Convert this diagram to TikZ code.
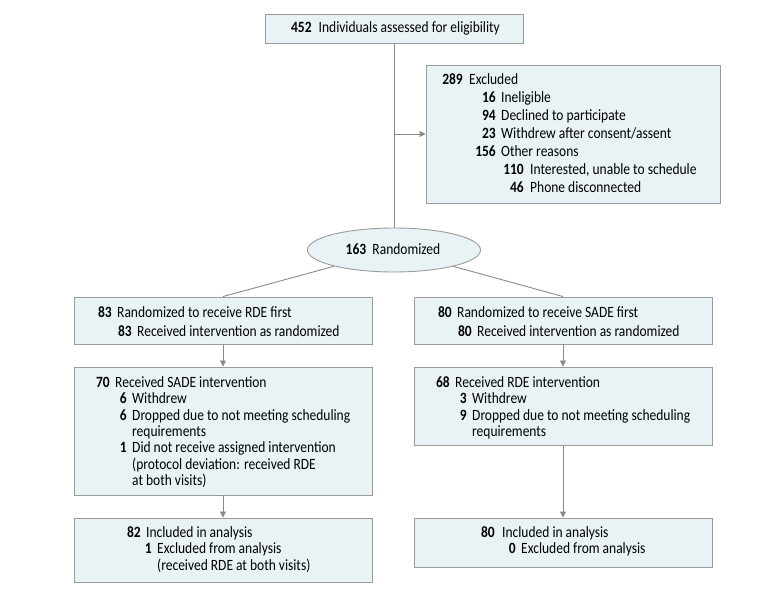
\documentclass[tikz,border=0pt]{standalone}
\usepackage{fontspec}
\setmainfont{Carlito}[FakeStretch=0.86]
\usetikzlibrary{arrows.meta,shapes.geometric}
\definecolor{boxfill}{HTML}{E9F2F5}
\definecolor{boxline}{HTML}{9B9B9B}
\definecolor{connc}{HTML}{8A8A8A}
\newlength\refw
% name, x of number right edge, x of text start, y centre, number, text
\newcommand\itemrow[6]{%
  \node[numtxt, anchor=base east] (#1n) at (#2,#4+4.5) {#5};
  \node[bodytxt, anchor=base west] (#1t) at (#3,#4+4.5) {#6};}
% name, x of text start, y centre, text
\newcommand\controw[4]{%
  \node[bodytxt, anchor=base west] (#1) at (#2,#3+4.5) {#4};}
\begin{document}
\settowidth\refw{\fontsize{10pt}{12pt}\selectfont Dropped due to not meeting scheduling}%
\pgfmathsetmacro\fsz{10*218/\refw}%
\begin{tikzpicture}[x=1pt,y=-1pt]
\tikzset{
  numtxt/.style={font=\fontsize{\fsz pt}{\fsz pt}\selectfont\bfseries, inner sep=0pt, text=black},
  bodytxt/.style={font=\fontsize{\fsz pt}{\fsz pt}\selectfont, inner sep=0pt, text=black},
  box/.style={draw=boxline, fill=boxfill, line width=0.9pt, inner sep=0pt},
  conn/.style={draw=connc, line width=0.9pt},
  arr/.style={conn, -{Triangle[length=6pt,width=6pt]}},
}
\useasboundingbox (0,0) rectangle (780,593);

% boxes
\node[box, minimum width=258pt, minimum height=29pt] (top) at (394,28.5) {};
\node[box, minimum width=294pt, minimum height=138pt] (excl) at (573,134) {};
\node[box, ellipse, minimum width=173pt, minimum height=44pt] (rand) at (394,250) {};
\node[box, minimum width=298pt, minimum height=47pt] (L1) at (223,320.5) {};
\node[box, minimum width=298pt, minimum height=47pt] (R1) at (563,320.5) {};
\node[box, minimum width=298pt, minimum height=128pt] (L2) at (223,431) {};
\node[box, minimum width=298pt, minimum height=78pt] (R2) at (563,406) {};
\node[box, minimum width=298pt, minimum height=64pt] (L3) at (223,550) {};
\node[box, minimum width=298pt, minimum height=49pt] (R3) at (563,542.5) {};

% texts
\node[bodytxt, anchor=base] (toptxt) at (395.5,33) {\textbf{452}\hspace{0.45em}Individuals assessed for eligibility};
\node[bodytxt, anchor=base] (randtxt) at (393,254.5) {\textbf{163}\hspace{0.4em}Randomized};

\itemrow{e0}{463}{469}{80}{289}{Excluded}
\itemrow{e1}{496}{501}{98}{16}{Ineligible}
\itemrow{e2}{496}{501}{116}{94}{Declined to participate}
\itemrow{e3}{496}{501}{134}{23}{Withdrew after consent/assent}
\itemrow{e4}{496}{501}{152}{156}{Other reasons}
\itemrow{e5}{524}{530}{170}{110}{Interested, unable to schedule}
\itemrow{e6}{524}{530}{188}{46}{Phone disconnected}

\itemrow{a0}{112}{117}{313}{83}{Randomized to receive RDE first}
\itemrow{a1}{132}{137}{332}{83}{Received intervention as randomized}
\itemrow{b0}{452}{457}{313}{80}{Randomized to receive SADE first}
\itemrow{b1}{472}{477}{332}{80}{Received intervention as randomized}

\itemrow{c0}{110}{115}{383}{70}{Received SADE intervention}
\itemrow{c1}{127}{132}{399.3}{6}{Withdrew}
\itemrow{c2}{127}{132}{415.7}{6}{Dropped due to not meeting scheduling}
\controw{c3}{132}{432}{requirements}
\itemrow{c4}{127}{132}{448.3}{1}{Did not receive assigned intervention}
\controw{c5}{132}{464.7}{(protocol deviation: received RDE}
\controw{c6}{132}{481}{at both visits)}

\itemrow{d0}{450}{455}{383}{68}{Received RDE intervention}
\itemrow{d1}{467}{472}{399.3}{3}{Withdrew}
\itemrow{d2}{467}{472}{415.7}{9}{Dropped due to not meeting scheduling}
\controw{d3}{472}{432}{requirements}

\itemrow{f0}{141}{146}{533}{82}{Included in analysis}
\itemrow{f1}{152}{157}{549.5}{1}{Excluded from analysis}
\controw{f2}{157}{566}{(received RDE at both visits)}

\itemrow{g0}{495}{502}{533}{80}{Included in analysis}
\itemrow{g1}{516}{521}{549.5}{0}{Excluded from analysis}

% connectors
\coordinate (j) at (top.south |- excl.west);
\draw[conn] (top.south) -- (rand.north);
\draw[arr] (j) -- (excl.west);
\draw[conn] (rand) -- (L1.north);
\draw[conn] (rand) -- (R1.north);
\draw[arr] (L1.south) -- (L2.north);
\draw[arr] (R1.south) -- (R2.north);
\draw[arr] (L2.south) -- (L3.north);
\draw[arr] (R2.south) -- (R3.north);
\end{tikzpicture}
\end{document}
